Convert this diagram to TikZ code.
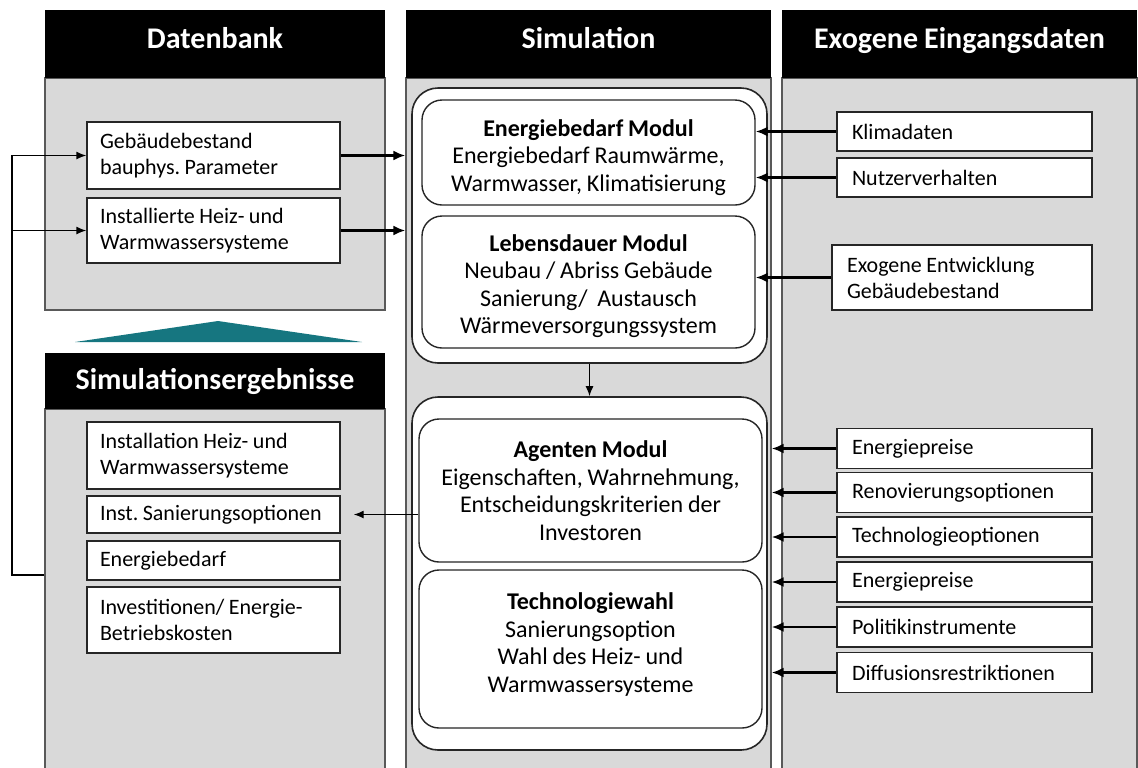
\documentclass[tikz,border=0pt]{standalone}
\usepackage{fontspec}
\setmainfont{Carlito}[WordSpace=0.9]
\frenchspacing
\usetikzlibrary{arrows.meta, positioning}
\definecolor{ColGray}{RGB}{217,217,217}
\definecolor{FlowTeal}{RGB}{22,118,128}

\begin{document}
\begin{tikzpicture}[x=0.5pt, y=-0.5pt,
    colbody/.style={draw=black!65, fill=ColGray, line width=0.6pt},
    colhead/.style={fill=black, text=white, font=\fontsize{15}{18}\selectfont\bfseries, minimum width=#1, inner sep=0pt},
    modframe/.style={draw=black!85, fill=white, rounded corners=13pt, line width=0.8pt},
    modbox/.style={draw=black!85, fill=white, rounded corners=10pt, line width=0.7pt, align=center, font=\fontsize{12}{13.8}\selectfont},
    databox/.style={draw=black!85, fill=white, line width=0.7pt, align=flush left, inner xsep=6.5pt, text width=#1, font=\fontsize{11}{13}\selectfont},
    inarrow/.style={line width=1.2pt, -{Latex[length=6pt, width=5pt]}},
    thinarrow/.style={line width=0.7pt, -{Latex[length=5pt, width=4pt]}}]
    \useasboundingbox (0,0) rectangle (1138,767);
    \node[colbody, minimum width=170pt, minimum height=116pt] (dbbody) at (215,194) {};
    \node[colbody, minimum width=182.5pt, minimum height=349pt] (simbody) at (588.5,427) {};
    \node[colbody, minimum width=177.5pt, minimum height=349pt] (exobody) at (959.5,427) {};
    \node[colbody, minimum width=170pt, minimum height=184pt] (serbody) at (215,593) {};
    \node[colhead=170pt, minimum height=34pt, text depth=6pt] (hdb) at (215,44) {Datenbank};
    \node[colhead=182.5pt, minimum height=34pt, text depth=6pt] (hsim) at (588.5,44) {Simulation};
    \node[colhead=177.5pt, minimum height=34pt, text depth=6pt] (hexo) at (959.5,44) {Exogene Eingangsdaten};
    \node[colhead=170pt, minimum height=28pt] (hser) at (215,381) {Simulationsergebnisse};
    \fill[FlowTeal] (75,342) -- (218,321) -- (362,342) -- cycle;
    \node[modframe, minimum width=177.5pt, minimum height=137.5pt] (simtop) at (589.5,225.5) {};
    \node[modframe, minimum width=177.5pt, minimum height=176.5pt] (simbot) at (589.5,573.5) {};
    \node[modbox, minimum width=166.5pt, minimum height=52.5pt] (emod) at (588.5,152.5) {\rule{0pt}{13.5pt}\textbf{Energiebedarf Modul}\\Energiebedarf Raumwärme,\\Warmwasser, Klimatisierung};
    \node[modbox, minimum width=166.5pt, minimum height=66pt] (lmod) at (588.5,282) {\rule{0pt}{12.5pt}\textbf{Lebensdauer Modul}\\Neubau / Abriss Gebäude\\Sanierung/\ \ Austausch\\Wärmeversorgungssystem};
    \node[modbox, minimum width=171.5pt, minimum height=71.5pt] (amod) at (590.5,490.5) {\textbf{Agenten Modul}\\Eigenschaften, Wahrnehmung,\\Entscheidungskriterien der\\Investoren};
    \node[modbox, minimum width=171.5pt, minimum height=79pt] (tmod) at (590.5,649) {\textbf{Technologiewahl}\\Sanierungsoption\\Wahl des Heiz- und\\Warmwassersysteme\rule[-6.5pt]{0pt}{6.5pt}};
    \node[databox=113.5pt, minimum height=33.5pt] (gb) at (213.5,155.5) {Gebäudebestand\\bauphys. Parameter};
    \node[databox=113.5pt, minimum height=32.5pt] (ihs) at (213.5,230.5) {Installierte Heiz- und\\Warmwassersysteme};
    \node[databox=113.5pt, minimum height=33.5pt] (rinst) at (213.5,455.5) {Installation Heiz- und\\Warmwassersysteme};
    \node[databox=113.5pt, minimum height=18.5pt] (rsan) at (213.5,514.5) {\mbox{Inst. Sanierungsoptionen}};
    \node[databox=113.5pt, minimum height=19.5pt] (rbed) at (213.5,560.5) {Energiebedarf};
    \node[databox=113.5pt, minimum height=33pt] (rinv) at (213.5,620) {Investitionen/ Energie-\\Betriebskosten};
    \node[databox=112.5pt, inner xsep=7.5pt, minimum height=19.5pt] (klima) at (964.5,131.5) {Klimadaten};
    \node[databox=112.5pt, inner xsep=7.5pt, minimum height=19.5pt] (nutzer) at (964.5,177.5) {Nutzerverhalten};
    \node[databox=115pt, inner xsep=7.5pt, minimum height=32.5pt] (exent) at (962,277.5) {Exogene Entwicklung\\Gebäudebestand};
    \node[databox=112.5pt, inner xsep=7.5pt, minimum height=20pt] (ep1) at (964.5,448.5) {Energiepreise};
    \node[databox=112.5pt, inner xsep=7.5pt, minimum height=20pt] (reno) at (964.5,492.5) {Renovierungsoptionen};
    \node[databox=112.5pt, inner xsep=7.5pt, minimum height=20pt] (techo) at (964.5,537) {Technologieoptionen};
    \node[databox=112.5pt, inner xsep=7.5pt, minimum height=20pt] (ep2) at (964.5,582) {Energiepreise};
    \node[databox=112.5pt, inner xsep=7.5pt, minimum height=20pt] (poli) at (964.5,627) {Politikinstrumente};
    \node[databox=112.5pt, inner xsep=7.5pt, minimum height=20pt] (diff) at (964.5,672.5) {Diffusionsrestriktionen};
    \draw[inarrow] (gb.east) -- (gb.east -| simbody.west);
    \draw[inarrow] (ihs.east) -- (ihs.east -| simbody.west);
    \draw[inarrow] (klima.west) -- (klima.west -| emod.east);
    \draw[inarrow] (nutzer.west) -- (nutzer.west -| emod.east);
    \draw[inarrow] (exent.west) -- (exent.west -| lmod.east);
    \draw[inarrow] (ep1.west) -- (ep1.west -| simbody.east);
    \draw[inarrow] (reno.west) -- (reno.west -| simbody.east);
    \draw[inarrow] (techo.west) -- (techo.west -| simbody.east);
    \draw[inarrow] (ep2.west) -- (ep2.west -| simbody.east);
    \draw[inarrow] (poli.west) -- (poli.west -| simbody.east);
    \draw[inarrow] (diff.west) -- (diff.west -| simbody.east);
    \draw[thinarrow] (simtop) -- (simbot);
    \draw[thinarrow, shorten >=6.5pt] (rsan.east -| amod.west) -- (rsan.east);
    \coordinate (fb) at (12,575);
    \draw[thinarrow] (serbody.west |- fb) -- (fb) |- (gb.west);
    \draw[thinarrow] (fb |- ihs.west) -- (ihs.west);
\end{tikzpicture}
\end{document}
